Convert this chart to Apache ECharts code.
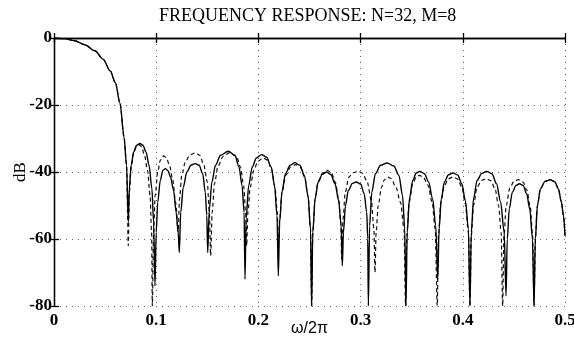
<!DOCTYPE html>
<html>
<head>
<meta charset="utf-8">
<script src="https://cdn.jsdelivr.net/npm/echarts@6/dist/echarts.min.js"></script>
<style>
html,body{margin:0;padding:0;background:#fff;}
#chart{width:574px;height:342px;}
</style>
</head>
<body>
<div id="chart"></div>
<script>
// ---- data ----
const titleText = 'FREQUENCY RESPONSE: N=32, M=8';
const xAxisLabel = 'ω/2π';
const yAxisLabel = 'dB';
const xTicks = [0, 0.1, 0.2, 0.3, 0.4, 0.5];
const yTicks = [-80, -60, -40, -20, 0];

// solid curve: [ω/2π, dB]
const solidResponse = [
  [0,0],[0.01,-0.2],[0.02,-0.8],[0.03,-2],[0.04,-3.8],[0.048,-6.3],[0.055,-9.8],[0.06,-13.3],[0.0646,-19.5],[0.0685,-29.5],[0.071,-38],[0.0727,-55],
  [0.0737,-45],[0.0755,-38],[0.078,-34],[0.081,-32],[0.084,-31.5],[0.087,-32],[0.09,-34],[0.093,-38],[0.0958,-45],[0.0975,-55],[0.0988,-74],
  [0.1,-58],[0.1015,-49],[0.104,-42.5],[0.1065,-39.5],[0.109,-39],[0.1115,-39.6],[0.114,-41.5],[0.117,-45.5],[0.1195,-52],[0.1215,-58],[0.1226,-64],
  [0.124,-52],[0.1265,-44.5],[0.13,-40],[0.134,-38],[0.138,-37.5],[0.142,-38],[0.1455,-40.5],[0.148,-46],[0.1495,-53],[0.1504,-64],
  [0.152,-51],[0.1545,-43],[0.158,-38],[0.163,-35],[0.1705,-33.8],[0.177,-35],[0.181,-38.5],[0.184,-44],[0.186,-52],[0.1869,-72],
  [0.188,-54],[0.1905,-44],[0.194,-38.5],[0.198,-35.8],[0.2032,-34.8],[0.208,-35.6],[0.2125,-38.5],[0.2158,-44],[0.2182,-53],[0.2195,-71],
  [0.2208,-55],[0.223,-46],[0.2265,-40.5],[0.231,-38],[0.2358,-37.2],[0.2405,-38],[0.245,-41],[0.2485,-47],[0.251,-57],[0.2521,-80],
  [0.2532,-58],[0.2555,-48],[0.2585,-43],[0.2625,-40.7],[0.2668,-40],[0.271,-40.8],[0.275,-43.5],[0.2785,-48.5],[0.281,-56],[0.2821,-68],
  [0.2832,-58],[0.2852,-50],[0.288,-45.5],[0.292,-43.4],[0.296,-43],[0.3,-43.6],[0.3035,-46.5],[0.306,-52],[0.307,-60],[0.3076,-80],
  [0.3088,-56],[0.311,-46],[0.3145,-40.5],[0.3195,-38],[0.326,-37.3],[0.3325,-38.2],[0.3375,-41],[0.341,-47],[0.3432,-57],[0.3444,-80],
  [0.3456,-58],[0.3478,-48],[0.351,-42.5],[0.3545,-40.3],[0.358,-39.8],[0.3625,-40.5],[0.3665,-43],[0.3705,-48],[0.3735,-56],[0.3755,-72],
  [0.3768,-57],[0.379,-48],[0.382,-43],[0.386,-40.8],[0.3905,-40.3],[0.395,-40.9],[0.399,-43.5],[0.4025,-48.5],[0.4055,-57],[0.407,-80],
  [0.4083,-58],[0.4105,-48],[0.414,-42.5],[0.4185,-40.4],[0.4234,-39.8],[0.4285,-40.5],[0.433,-43.5],[0.437,-49],[0.4405,-58],[0.4423,-77],
  [0.4435,-60],[0.4455,-51],[0.4485,-46],[0.452,-44],[0.4555,-43.5],[0.459,-44],[0.4625,-46.5],[0.4655,-51],[0.4682,-60],[0.4697,-80],
  [0.471,-60],[0.473,-50],[0.476,-45],[0.4805,-42.8],[0.4853,-42.3],[0.49,-42.9],[0.4935,-45],[0.4965,-49],[0.4985,-53],[0.5,-59]
];

// dashed curve: [ω/2π, dB]
const dashedResponse = [
  [0,0],[0.01,-0.2],[0.02,-0.8],[0.03,-2],[0.04,-3.8],[0.048,-6.3],[0.055,-9.8],[0.06,-13.3],[0.0646,-19.5],[0.0685,-29.5],[0.071,-38],[0.0727,-62],
  [0.0737,-46],[0.0755,-38.5],[0.078,-34.2],[0.0805,-32.3],[0.083,-31.8],[0.0858,-32.5],[0.0885,-35],[0.0915,-39.5],[0.094,-47],[0.0955,-58],[0.0962,-80],
  [0.0975,-58],[0.099,-47],[0.1015,-40],[0.104,-36.5],[0.107,-35.2],[0.11,-35.8],[0.113,-38],[0.116,-42],[0.119,-49],[0.1215,-58],
  [0.1228,-48],[0.125,-41],[0.1285,-37],[0.133,-34.9],[0.138,-34.3],[0.1425,-35],[0.1465,-37.8],[0.15,-43],[0.152,-52],[0.1533,-65],
  [0.1548,-52],[0.157,-43.5],[0.1605,-38.2],[0.1655,-35.3],[0.172,-34.2],[0.1785,-35.3],[0.1825,-38.5],[0.1855,-44],[0.1875,-52],[0.1885,-62],
  [0.1898,-52],[0.192,-44.5],[0.1955,-39.5],[0.1995,-36.8],[0.2045,-35.8],[0.209,-36.5],[0.213,-39.3],[0.2162,-44.5],[0.2185,-52],[0.2195,-62],
  [0.2208,-54],[0.2232,-46],[0.2268,-41],[0.2315,-38.5],[0.2365,-37.8],[0.241,-38.6],[0.2452,-41.5],[0.2487,-47.5],[0.251,-57],[0.2521,-80],
  [0.2532,-58],[0.2555,-48],[0.2585,-42.8],[0.263,-40.2],[0.2675,-39.5],[0.2715,-40.3],[0.2752,-43],[0.2785,-48],[0.2805,-55],[0.2815,-66],
  [0.2828,-54],[0.285,-46],[0.2885,-41.5],[0.293,-40.2],[0.2975,-39.8],[0.302,-40.4],[0.3065,-43],[0.3105,-48.5],[0.313,-57],[0.3141,-70],
  [0.3152,-58],[0.3172,-50],[0.3205,-44.5],[0.3235,-42.2],[0.3265,-41.5],[0.33,-42],[0.3345,-44.5],[0.339,-49],[0.3425,-57],[0.344,-80],
  [0.3452,-59],[0.3475,-49],[0.351,-43.5],[0.3545,-41.5],[0.3575,-41],[0.3615,-41.6],[0.366,-44],[0.37,-49],[0.373,-57],[0.375,-80],
  [0.3762,-59],[0.3785,-49],[0.382,-44],[0.386,-42],[0.3905,-41.5],[0.395,-42.1],[0.399,-44.5],[0.4025,-49.5],[0.4055,-58],[0.407,-80],
  [0.4083,-59],[0.4105,-50],[0.414,-44.5],[0.4185,-42.5],[0.423,-42],[0.4275,-42.6],[0.4315,-45],[0.435,-50],[0.4375,-58],[0.439,-80],
  [0.4403,-59],[0.4425,-50],[0.446,-44.8],[0.45,-42.8],[0.4545,-42.3],[0.459,-43],[0.4628,-45.5],[0.466,-50.5],[0.4683,-59],[0.4697,-80],
  [0.471,-60],[0.473,-50],[0.476,-45],[0.4805,-42.8],[0.4853,-42.3],[0.49,-42.9],[0.4935,-45],[0.4965,-49],[0.4985,-53],[0.5,-59]
];

// ---- chart ----
const serif = '"Liberation Serif", "DejaVu Serif", serif';
const sans = '"Liberation Sans", Arial, sans-serif';
const chart = echarts.init(document.getElementById('chart'), null, {renderer: 'canvas'});

const xMin = xTicks[0], xMax = xTicks[xTicks.length - 1];
const yMin = yTicks[0], yMax = yTicks[yTicks.length - 1];
const xStep = xTicks[1] - xTicks[0], yStep = yTicks[1] - yTicks[0];

const axisLineStyle = {color: '#000', width: 1.3};
const gridLineStyle = {color: '#666', width: 1, type: [1, 5]};

chart.setOption({
  animation: false,
  backgroundColor: '#fff',
  title: {
    text: titleText,
    left: 159, top: 7, padding: 0,
    textStyle: {fontFamily: serif, fontSize: 18, fontWeight: 'normal', color: '#000'}
  },
  grid: {left: 54, right: 9, top: 38, bottom: 36, containLabel: false, outerBoundsMode: 'none'},
  xAxis: [{
    type: 'value', min: xMin, max: xMax, interval: xStep,
    name: xAxisLabel, nameLocation: 'middle', nameGap: 15, nameMoveOverlap: false,
    nameTextStyle: {fontFamily: sans, fontSize: 16, color: '#000'},
    axisLine: {show: true, lineStyle: axisLineStyle},
    axisTick: {show: true, inside: true, length: 5, lineStyle: axisLineStyle},
    axisLabel: {fontFamily: serif, fontSize: 17, color: '#000', margin: 6, fontWeight: 'bold'},
    splitLine: {show: true, lineStyle: gridLineStyle}
  }, {
    type: 'value', position: 'top', min: xMin, max: xMax, interval: xStep,
    axisLine: {show: true, lineStyle: axisLineStyle},
    axisTick: {show: true, inside: true, length: 5, lineStyle: axisLineStyle},
    axisLabel: {show: false}, splitLine: {show: false}
  }],
  yAxis: [{
    type: 'value', min: yMin, max: yMax, interval: yStep,
    name: yAxisLabel, nameLocation: 'middle', nameGap: 25, nameMoveOverlap: false,
    nameTextStyle: {fontFamily: serif, fontSize: 17, color: '#000'},
    axisLine: {show: true, lineStyle: axisLineStyle},
    axisTick: {show: true, inside: true, length: 5, lineStyle: axisLineStyle},
    axisLabel: {fontFamily: serif, fontSize: 17, color: '#000', margin: 2, fontWeight: 'bold'},
    splitLine: {show: true, lineStyle: gridLineStyle}
  }, {
    type: 'value', position: 'right', min: yMin, max: yMax, interval: yStep,
    axisLine: {show: true, lineStyle: axisLineStyle},
    axisTick: {show: true, inside: true, length: 5, lineStyle: axisLineStyle},
    axisLabel: {show: false}, splitLine: {show: false}
  }],
  series: [{
    name: 'dashed', type: 'line', data: dashedResponse, xAxisIndex: 0, yAxisIndex: 0,
    showSymbol: false, smooth: 0.3, smoothMonotone: 'x', clip: true,
    lineStyle: {color: '#111', width: 1.2, type: [4, 3]}, z: 2
  }, {
    name: 'solid', type: 'line', data: solidResponse, xAxisIndex: 0, yAxisIndex: 0,
    showSymbol: false, smooth: 0.3, smoothMonotone: 'x', clip: true,
    lineStyle: {color: '#000', width: 1.4}, z: 3
  }]
});
</script>
</body>
</html>
